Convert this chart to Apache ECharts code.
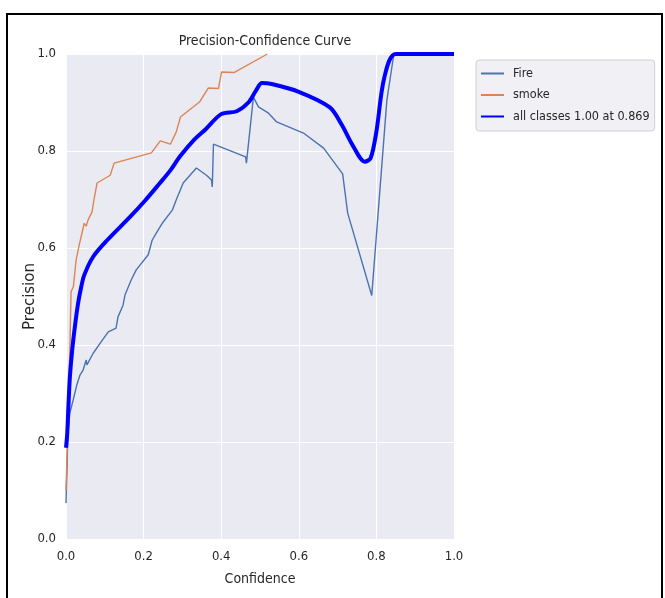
<!DOCTYPE html>
<html>
<head>
<meta charset="utf-8">
<script src="https://cdn.jsdelivr.net/npm/echarts@6/dist/echarts.min.js"></script>
<style>
  html, body { margin: 0; padding: 0; background: #ffffff; }
  #chart { width: 665px; height: 598px; }
</style>
</head>
<body>
<div id="chart"></div>
<script>
// Precision vs confidence for each class and for all classes combined
const fireConf = [0.000, 0.003, 0.005, 0.010, 0.018, 0.028, 0.036, 0.044, 0.052, 0.054, 0.070, 0.090, 0.109, 0.129, 0.134, 0.147, 0.152, 0.168, 0.181, 0.212, 0.222, 0.233, 0.248, 0.274, 0.284, 0.302, 0.336, 0.362, 0.375, 0.377, 0.380, 0.463, 0.465, 0.483, 0.496, 0.522, 0.543, 0.612, 0.664, 0.713, 0.726, 0.788, 0.827, 0.845, 1.000];
const fireP    = [0.074, 0.160, 0.220, 0.260, 0.285, 0.318, 0.338, 0.348, 0.369, 0.359, 0.383, 0.406, 0.427, 0.435, 0.458, 0.482, 0.503, 0.534, 0.555, 0.586, 0.616, 0.631, 0.651, 0.678, 0.699, 0.734, 0.765, 0.750, 0.740, 0.726, 0.814, 0.788, 0.775, 0.911, 0.891, 0.878, 0.860, 0.837, 0.806, 0.753, 0.672, 0.502, 0.905, 1.000, 1.000];

const smokeConf = [0.000, 0.004, 0.010, 0.013, 0.019, 0.026, 0.034, 0.047, 0.052, 0.057, 0.067, 0.072, 0.080, 0.114, 0.124, 0.220, 0.243, 0.269, 0.284, 0.295, 0.344, 0.367, 0.393, 0.401, 0.434, 0.519];
const smokeP    = [0.100, 0.210, 0.390, 0.510, 0.520, 0.575, 0.606, 0.651, 0.645, 0.658, 0.674, 0.699, 0.734, 0.750, 0.775, 0.796, 0.821, 0.814, 0.839, 0.870, 0.901, 0.930, 0.929, 0.963, 0.962, 1.000];

const allConf = [0.000, 0.003, 0.006, 0.010, 0.016, 0.024, 0.031, 0.038, 0.047, 0.070, 0.106, 0.165, 0.204, 0.240, 0.269, 0.294, 0.330, 0.360, 0.400, 0.440, 0.470, 0.490, 0.505, 0.530, 0.600, 0.680, 0.710, 0.740, 0.770, 0.785, 0.800, 0.820, 0.850, 1.000];
const allP    = [0.188, 0.215, 0.270, 0.334, 0.390, 0.445, 0.485, 0.515, 0.544, 0.582, 0.616, 0.664, 0.698, 0.732, 0.760, 0.789, 0.823, 0.845, 0.876, 0.882, 0.900, 0.925, 0.940, 0.938, 0.922, 0.890, 0.855, 0.810, 0.778, 0.785, 0.840, 0.950, 1.000, 1.000];

const tickValues = [0.0, 0.2, 0.4, 0.6, 0.8, 1.0];
const seriesNames = ['Fire', 'smoke', 'all classes 1.00 at 0.869'];

const zip = (xs, ys) => xs.map((x, i) => [x, ys[i]]);
const narrow = '"DejaVu Sans Condensed", "DejaVu Sans", sans-serif';
const wide = '"DejaVu Sans", sans-serif';
const ink = '#262626';
const tickFmt = v => tickValues.find(t => Math.abs(t - v) < 1e-9).toFixed(1);

const chart = echarts.init(document.getElementById('chart'));
chart.setOption({
  animation: false,
  backgroundColor: '#ffffff',
  title: {
    text: 'Precision-Confidence Curve',
    left: 260, top: 29, textAlign: 'center',
    textStyle: { fontFamily: narrow, fontSize: 14, fontWeight: 'normal', color: ink }
  },
  grid: {
    left: 66, top: 54, width: 388, height: 485,
    show: true, backgroundColor: '#eaeaf2', borderWidth: 0
  },
  legend: {
    orient: 'vertical',
    left: 476, top: 60,
    padding: [7, 5, 8, 4],
    itemGap: 8.5,
    itemWidth: 23, itemHeight: 13,
    backgroundColor: '#f1f1f5',
    borderColor: '#cfcfd6', borderWidth: 1, borderRadius: 3,
    itemStyle: { opacity: 0 },
    textStyle: { fontFamily: narrow, fontSize: 12.5, color: ink, padding: [0, 0, 0, 4] },
    data: seriesNames
  },
  xAxis: {
    type: 'value', min: 0, max: 1, interval: 0.2,
    name: 'Confidence', nameLocation: 'middle', nameGap: 33,
    nameTextStyle: { fontFamily: narrow, fontSize: 14, color: ink },
    axisLine: { show: false }, axisTick: { show: false },
    axisLabel: { fontFamily: narrow, fontSize: 13, color: ink, margin: 11, formatter: tickFmt },
    splitLine: { show: true, lineStyle: { color: '#ffffff', width: 1 } }
  },
  yAxis: {
    type: 'value', min: 0, max: 1, interval: 0.2,
    name: 'Precision', nameLocation: 'middle', nameGap: 28, nameMoveOverlap: false,
    nameTextStyle: { fontFamily: wide, fontSize: 15, color: ink },
    axisLine: { show: false }, axisTick: { show: false },
    axisLabel: { fontFamily: narrow, fontSize: 13, color: ink, margin: 10, formatter: tickFmt },
    splitLine: { show: true, lineStyle: { color: '#ffffff', width: 1 } }
  },
  graphic: [{
    type: 'rect', silent: true,
    shape: { x: 7, y: 14, width: 655, height: 600 },
    style: { fill: 'none', stroke: '#000000', lineWidth: 2 }
  }],
  series: [
    { name: seriesNames[0], type: 'line', data: zip(fireConf, fireP), symbol: 'none',
      lineStyle: { color: '#4c72b0', width: 1.4 }, itemStyle: { color: '#4c72b0' }, z: 3 },
    { name: seriesNames[1], type: 'line', data: zip(smokeConf, smokeP), symbol: 'none',
      lineStyle: { color: '#dd8452', width: 1.4 }, itemStyle: { color: '#dd8452' }, z: 3 },
    { name: seriesNames[2], type: 'line', data: zip(allConf, allP), symbol: 'none', smooth: 0.3,
      lineStyle: { color: '#0000ff', width: 4 }, itemStyle: { color: '#0000ff' }, z: 4 }
  ]
});
</script>
</body>
</html>
